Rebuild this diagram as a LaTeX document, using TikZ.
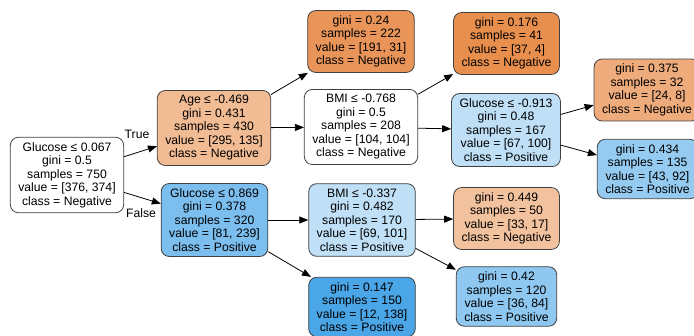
\documentclass[tikz,border=0pt]{standalone}
\usepackage{fontspec}
\setmainfont{Liberation Sans}
\usetikzlibrary{arrows.meta}

% node fill colours (class colour blended with white by purity)
\definecolor{nwhite}{RGB}{255,255,255}
\definecolor{neg84}{RGB}{233,149,89}
\definecolor{neg89}{RGB}{232,143,78}
\definecolor{neg54}{RGB}{241,187,148}
\definecolor{neg67}{RGB}{238,171,123}
\definecolor{neg48}{RGB}{242,194,159}
\definecolor{pos66}{RGB}{124,190,238}
\definecolor{pos91}{RGB}{74,166,231}
\definecolor{pos32}{RGB}{192,224,247}
\definecolor{pos33}{RGB}{190,223,246}
\definecolor{pos57}{RGB}{142,199,240}
\definecolor{pos53}{RGB}{149,203,241}

\begin{document}
\begin{tikzpicture}[x=1pt,y=-1pt,
  treenode/.style={draw=black!75, line width=0.8pt, rounded corners=8pt,
    align=center, inner xsep=8pt, inner ysep=5pt,
    font=\fontsize{12.2}{13.5}\selectfont},
  edge/.style={draw=black, line width=0.8pt,
    -{Triangle[length=9pt,width=7pt]}},
  edgelabel/.style={font=\fontsize{12.2}{13.5}\selectfont}
]
\useasboundingbox (0,0) rectangle (694,335);
\clip (0,0) rectangle (694,335);

% split nodes
\node[treenode, fill=nwhite] (root) at (67,175)
  {Glucose ≤ 0.067\\gini = 0.5\\samples = 750\\value = [376, 374]\\class = Negative};
\node[treenode, fill=neg54] (age) at (214,128)
  {Age ≤ -0.469\\gini = 0.431\\samples = 430\\value = [295, 135]\\class = Negative};
\node[treenode, fill=pos66] (glua) at (214.5,220)
  {Glucose ≤ 0.869\\gini = 0.378\\samples = 320\\value = [81, 239]\\class = Positive};
\node[treenode, fill=nwhite] (bmia) at (361,127)
  {BMI ≤ -0.768\\gini = 0.5\\samples = 208\\value = [104, 104]\\class = Negative};
\node[treenode, fill=pos32] (bmib) at (362,220)
  {BMI ≤ -0.337\\gini = 0.482\\samples = 170\\value = [69, 101]\\class = Positive};
\node[treenode, fill=pos33] (glub) at (506,130)
  {Glucose ≤ -0.913\\gini = 0.48\\samples = 167\\value = [67, 100]\\class = Positive};

% leaves
\node[treenode, fill=neg84] (l1) at (361,41.5)
  {gini = 0.24\\samples = 222\\value = [191, 31]\\class = Negative};
\node[treenode, fill=pos91] (l2) at (362,307)
  {gini = 0.147\\samples = 150\\value = [12, 138]\\class = Positive};
\node[treenode, fill=neg89] (l3) at (506.5,43.5)
  {gini = 0.176\\samples = 41\\value = [37, 4]\\class = Negative};
\node[treenode, fill=neg48] (l4) at (506.5,218.5)
  {gini = 0.449\\samples = 50\\value = [33, 17]\\class = Negative};
\node[treenode, fill=pos57] (l5) at (506.5,296.5)
  {gini = 0.42\\samples = 120\\value = [36, 84]\\class = Positive};
\node[treenode, fill=neg67] (l6) at (647,90)
  {gini = 0.375\\samples = 32\\value = [24, 8]\\class = Negative};
\node[treenode, fill=pos53] (l7) at (647.5,169)
  {gini = 0.434\\samples = 135\\value = [43, 92]\\class = Positive};

% connectors
\draw[edge] (root) -- (age);
\draw[edge] (root) -- (glua);
\draw[edge] (age) -- (l1);
\draw[edge] (age) -- (bmia);
\draw[edge] (bmia) -- (l3);
\draw[edge] (bmia) -- (glub);
\draw[edge] (glub) -- (l6);
\draw[edge] (glub) -- (l7);
\draw[edge] (glua) -- (bmib);
\draw[edge] (glua) -- (l2);
\draw[edge] (bmib) -- (l4);
\draw[edge] (bmib) -- (l5);

% branch labels
\node[edgelabel] (truelbl) at (137,134) {True};
\node[edgelabel] (falselbl) at (141,213) {False};
\end{tikzpicture}
\end{document}
